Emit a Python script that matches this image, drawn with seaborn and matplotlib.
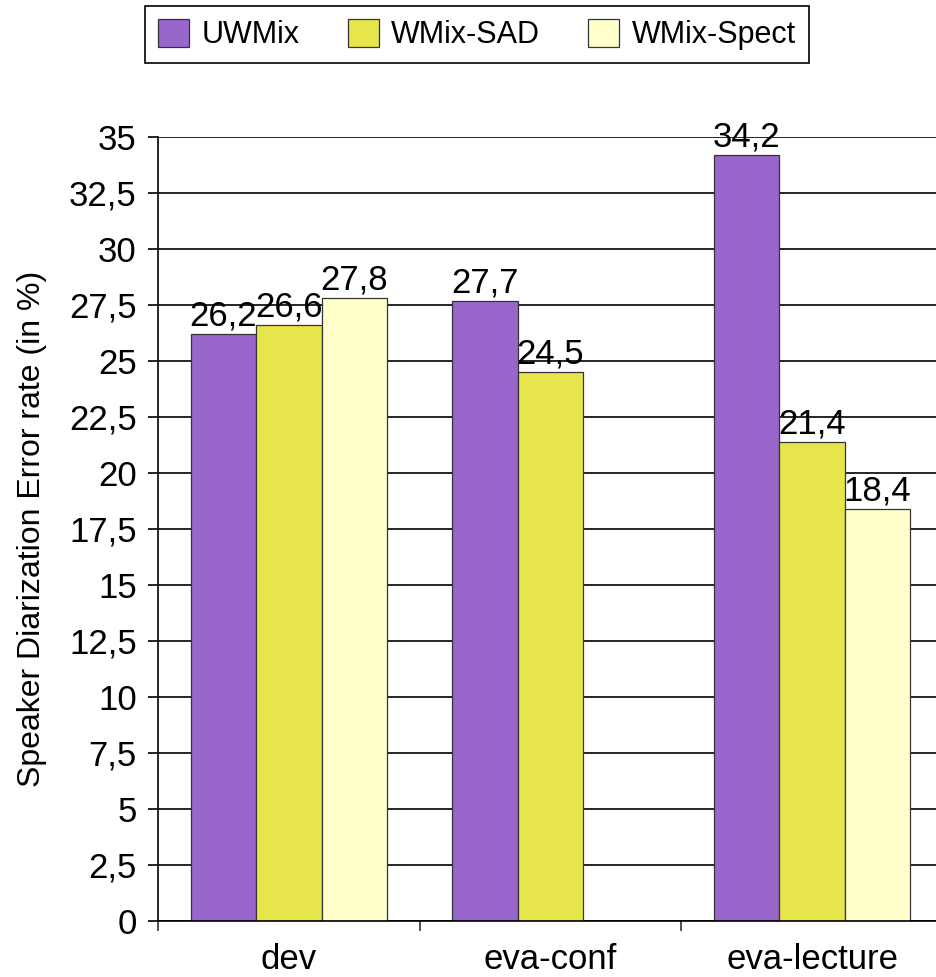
import matplotlib
matplotlib.use("Agg")
import matplotlib.pyplot as plt
from matplotlib.ticker import FuncFormatter, MultipleLocator, FixedLocator
from matplotlib.patches import Patch
import seaborn as sns
import pandas as pd

# Speaker diarization error rates (%) per data set and system
datasets = ["dev", "eva-conf", "eva-lecture"]
systems = ["UWMix", "WMix-SAD", "WMix-Spect"]
uwmix = [26.2, 27.7, 34.2]
wmix_sad = [26.6, 24.5, 21.4]
wmix_spect = [27.8, None, 18.4]   # no WMix-Spect run on eva-conf
colors = ["#9966CC", "#E6E64C", "#FFFFCC"]

rows = []
for name, vals in zip(systems, [uwmix, wmix_sad, wmix_spect]):
    for ds, v in zip(datasets, vals):
        if v is not None:
            rows.append({"set": ds, "system": name, "error": v})
df = pd.DataFrame(rows)

sns.set_style("white")
plt.rcParams["font.family"] = ["Liberation Sans", "DejaVu Sans"]
plt.rcParams.update({"text.color": "black", "axes.labelcolor": "black",
                     "xtick.color": "black", "ytick.color": "black"})

W, H = 936, 977
fig = plt.figure(figsize=(W / 100, H / 100), dpi=100)
ax = fig.add_axes([158 / W, 56 / H, 785 / W, 784 / H])

sns.barplot(data=df, x="set", y="error", hue="system", order=datasets,
            hue_order=systems, palette=colors, saturation=1, width=0.75,
            edgecolor="#333333", linewidth=0.9, errorbar=None, ax=ax,
            legend=False, zorder=3)

def comma(v, pos=None):
    s = f"{v:.1f}".rstrip("0").rstrip(".")
    return s.replace(".", ",")

for cont in ax.containers:
    ax.bar_label(cont, fmt=lambda v: f"{v:.1f}".replace(".", ","),
                 padding=1, fontsize=25, color="black")

ax.set_ylim(0, 35)
ax.set_xlim(-0.5, 2.5)
ax.yaxis.set_major_locator(MultipleLocator(2.5))
ax.yaxis.set_major_formatter(FuncFormatter(comma))
ax.grid(axis="y", color="black", linewidth=1.2, zorder=0)
ax.grid(axis="x", visible=False)
ax.set_axisbelow(True)

for side in ["top", "right"]:
    ax.spines[side].set_visible(False)
for side in ["left", "bottom"]:
    ax.spines[side].set_color("black")
    ax.spines[side].set_linewidth(1.2)
    ax.spines[side].set_zorder(4)

ax.tick_params(axis="y", which="major", direction="out", length=7.2,
               width=1.2, color="black", labelsize=25, labelcolor="black",
               pad=8, left=True)
ax.tick_params(axis="x", which="major", length=0, labelsize=25,
               labelcolor="black", pad=16, bottom=True)
ax.xaxis.set_minor_locator(FixedLocator([-0.5, 0.5, 1.5, 2.5]))
ax.tick_params(axis="x", which="minor", direction="out", length=7.2,
               width=1.2, color="#333333", bottom=True)

ax.set_xlabel("")
ax.set_ylabel("Speaker Diarization Error rate (in %)", fontsize=23,
              color="black")
ax.yaxis.set_label_coords(-0.142, 0.5)

handles = [Patch(facecolor=c, edgecolor="#333333", linewidth=0.9)
           for c in colors]
leg = fig.legend(handles, systems, loc="upper left",
                 bbox_to_anchor=(145 / W, 1 - 6 / H), ncol=3, fontsize=22,
                 frameon=True, fancybox=False, shadow=False,
                 handlelength=1.02, handleheight=1.02, handletextpad=0.4,
                 columnspacing=1.58, borderpad=0.42, borderaxespad=0)
leg.get_frame().set_edgecolor("black")
leg.get_frame().set_linewidth(1.2)
leg.get_frame().set_alpha(1)
for t in leg.get_texts():
    t.set_color("black")

fig.savefig("out.png", dpi=100)
